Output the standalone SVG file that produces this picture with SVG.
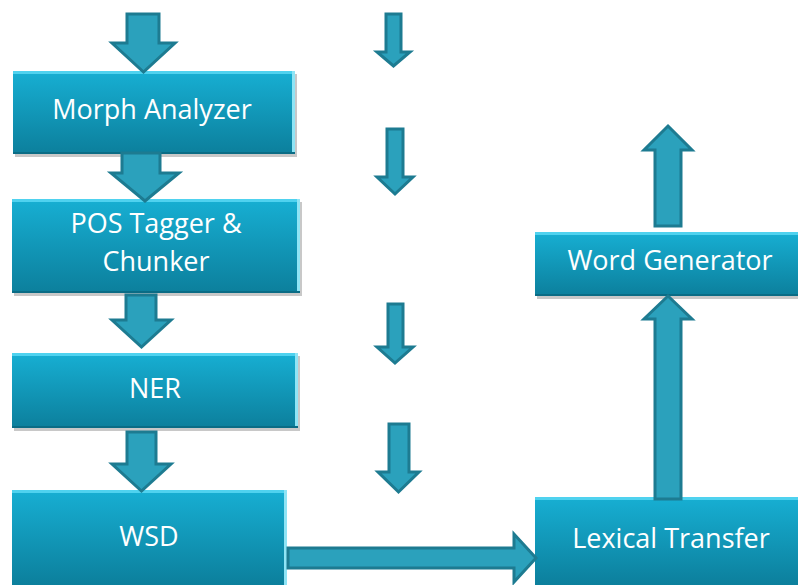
<svg xmlns="http://www.w3.org/2000/svg" width="798" height="585" viewBox="0 0 798 585">
<defs>
<linearGradient id="boxg" x1="0" y1="0" x2="0" y2="1">
<stop offset="0" stop-color="#17afd3"/>
<stop offset="1" stop-color="#0c7f9c"/>
</linearGradient>
</defs>
<style>
.shadow{fill:#9a9a9a;opacity:0.55}
.box{fill:url(#boxg)}
.hl{fill:#4fd2ef}
.hr{fill:#8fe4f5}
.bd{fill:#0a6c85}
.lbl{font-family:"Open Sans","Liberation Sans",sans-serif;font-size:27px;fill:#ffffff;text-anchor:middle}
.arr{fill:#2ba1bc;stroke:#1d7b91;stroke-width:3;stroke-linejoin:miter}
</style>
<rect width="798" height="585" fill="#ffffff"/>
<g id="morph">
<rect class="shadow" x="15" y="74" width="282" height="83"/>
<rect class="box" x="13" y="71" width="282" height="83"/>
<rect class="hl" x="13" y="71" width="282" height="3"/>
<rect class="hr" x="292" y="71" width="3" height="83"/>
<rect class="bd" x="13" y="152" width="282" height="2"/>
<text class="lbl" x="152" y="119">Morph Analyzer</text>
</g>
<g id="pos">
<rect class="shadow" x="14" y="202" width="288" height="94"/>
<rect class="box" x="12" y="199" width="288" height="94"/>
<rect class="hl" x="12" y="199" width="288" height="3"/>
<rect class="hr" x="297" y="199" width="3" height="94"/>
<rect class="bd" x="12" y="291" width="288" height="2"/>
<text class="lbl" x="156" y="233">POS Tagger &amp;</text>
<text class="lbl" x="156" y="271">Chunker</text>
</g>
<g id="ner">
<rect class="shadow" x="14" y="356" width="286" height="75"/>
<rect class="box" x="12" y="353" width="286" height="75"/>
<rect class="hl" x="12" y="353" width="286" height="3"/>
<rect class="hr" x="295" y="353" width="3" height="75"/>
<rect class="bd" x="12" y="426" width="286" height="2"/>
<text class="lbl" x="155" y="398">NER</text>
</g>
<g id="wsd">
<rect class="box" x="12" y="490" width="275" height="95"/>
<rect class="hl" x="12" y="490" width="275" height="3"/>
<rect class="hr" x="284" y="490" width="3" height="95"/>
<text class="lbl" x="149" y="546">WSD</text>
</g>
<g id="wordgen">
<rect class="shadow" x="537" y="235" width="261" height="64"/>
<rect class="box" x="535" y="232" width="263" height="64"/>
<rect class="hl" x="535" y="232" width="263" height="3"/>
<rect class="bd" x="535" y="294" width="263" height="2"/>
<text class="lbl" x="670" y="270">Word Generator</text>
</g>
<g id="lexical">
<rect class="box" x="535" y="497" width="263" height="88"/>
<rect class="hl" x="535" y="497" width="263" height="3"/>
<text class="lbl" x="671" y="548">Lexical Transfer</text>
</g>
<g id="connectors">
<polygon class="arr" points="127,14 159,14 159,43 175,43 143.5,72 112,43 127,43"/>
<polygon class="arr" points="122,153 160,153 160,173 179,173 145,201 111,173 122,173"/>
<polygon class="arr" points="126,295 156,295 156,320 171,320 141.5,347 112,320 126,320"/>
<polygon class="arr" points="127,432 156,432 156,464 171,464 141.5,491 112,464 127,464"/>
<polygon class="arr" points="386,14 401,14 401,52 410,52 393.5,66 377,52 386,52"/>
<polygon class="arr" points="387,129 403,129 403,177 413,177 395,194 377,177 387,177"/>
<polygon class="arr" points="388,304 403,304 403,347 413,347 395,363 377,347 388,347"/>
<polygon class="arr" points="389,424 409,424 409,472 419,472 398.5,492 378,472 389,472"/>
<polygon class="arr" points="668,126 692,150 681,150 681,226 655,226 655,150 644,150"/>
<polygon class="arr" points="668,296 692,319 681,319 681,499 655,499 655,319 644,319"/>
<polygon class="arr" points="288,548 514,548 514,534 536,558 514,582 514,568 288,568"/>
</g>
</svg>
